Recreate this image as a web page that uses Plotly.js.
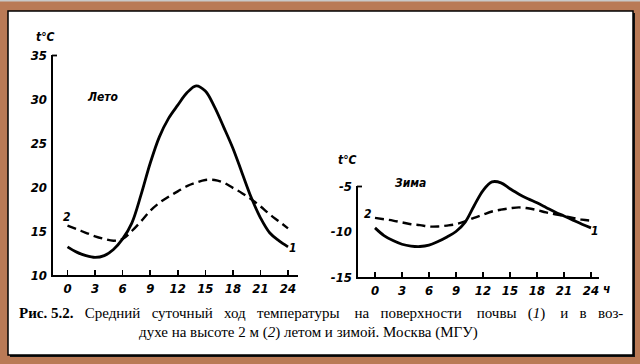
<!DOCTYPE html>
<html><head><meta charset="utf-8">
<script src="https://cdn.plot.ly/plotly-3.0.1.min.js"></script>
<style>html,body{margin:0;padding:0;background:#B97A56;}#chart{width:640px;height:364px;}</style>
</head><body><div id="chart"></div>
<script>
// Hours of the day
const hours = [0,1,2,3,4,5,6,7,8,9,10,11,12,13,14,15,16,17,18,19,20,21,22,23,24];
// Summer (Лето): 1 = soil surface, 2 = air at 2 m
const summerSoil = [13.2,12.6,12.2,12.0,12.2,12.9,14.1,15.9,19.1,22.7,25.7,27.8,29.3,30.7,31.5,30.9,29.1,26.8,24.4,21.6,18.8,16.5,14.8,13.9,13.2];
const summerAir  = [15.6,15.2,14.8,14.4,14.1,13.9,14.1,15.0,16.1,17.3,18.2,18.9,19.5,20.1,20.5,20.8,20.8,20.5,19.9,19.3,18.6,17.8,16.9,16.1,15.3];
// Winter (Зима)
const winterSoil = [-9.6,-10.45,-11.0,-11.4,-11.6,-11.65,-11.5,-11.1,-10.6,-10.0,-9.0,-7.2,-5.5,-4.55,-4.65,-5.3,-5.9,-6.4,-6.85,-7.35,-7.85,-8.3,-8.75,-9.2,-9.6];
const winterAir  = [-8.5,-8.65,-8.8,-9.0,-9.2,-9.3,-9.45,-9.45,-9.35,-9.2,-8.9,-8.5,-8.15,-7.8,-7.6,-7.45,-7.35,-7.45,-7.65,-7.9,-8.1,-8.3,-8.5,-8.7,-8.8];
// Tick labels
const xTicks = [0,3,6,9,12,15,18,21,24];
const xTickText = ["0","3","6","9","12","15","18","21","24"];
const ySummerTicks = [10,15,20,25,30,35];
const yWinterTicks = [-15,-10,-5];

const W = 640, H = 364;
const px = v => v / W, py = v => 1 - v / H;

const tickFont = {family: "DejaVu Sans Condensed, DejaVu Sans", size: 13, color: "#000", weight: "bold", style: "italic"};
const lblFont = {family: "DejaVu Sans Condensed, DejaVu Sans", size: 12, color: "#000", weight: "bold", style: "italic"};

const solid = {color: "#000", width: 2.8, shape: "spline", smoothing: 1};
const dashed = {color: "#000", width: 2.4, shape: "spline", smoothing: 1, dash: "9px,5px"};

const data = [
  {x: hours, y: summerSoil, xaxis: "x", yaxis: "y", mode: "lines", line: solid, hoverinfo: "skip"},
  {x: hours, y: summerAir, xaxis: "x", yaxis: "y", mode: "lines", line: dashed, hoverinfo: "skip"},
  {x: hours, y: winterSoil, xaxis: "x2", yaxis: "y2", mode: "lines", line: solid, hoverinfo: "skip"},
  {x: hours, y: winterAir, xaxis: "x2", yaxis: "y2", mode: "lines", line: dashed, hoverinfo: "skip"}
];

function xAx(domain, range, anchor) {
  return {domain, range, anchor, showline: true, linewidth: 2, linecolor: "#000", ticks: "inside", ticklen: 5, tickwidth: 1.5, tickcolor: "#000",
    tickvals: xTicks, ticktext: xTickText, tickfont: tickFont, showgrid: false, zeroline: false, fixedrange: true};
}
function yAx(domain, range, anchor, vals) {
  return {domain, range, anchor, showline: false, ticks: "", tickvals: vals, ticktext: vals.map(String),
    tickfont: tickFont, showgrid: false, zeroline: false, fixedrange: true, ticklabelstandoff: 3};
}

// summer panel geometry (pixels)
const sx0 = 51, sx1 = 298, s0 = 67.5, s24 = 288, sTop = 55, sBot = 275;
const sppx = (s24 - s0) / 24;
// winter panel geometry (pixels)
const wx0 = 356, wx1 = 599, w0 = 375, w24 = 591, wTop = 186, wBot = 277;
const wppx = (w24 - w0) / 24;
const wUnit = (wBot - wTop) / 10;

const ann = (x, y, text, extra) => Object.assign({xref: "paper", yref: "paper", x: px(x), y: py(y), text, showarrow: false,
  xanchor: "center", yanchor: "middle", font: lblFont}, extra || {});

const layout = {
  width: W, height: H, margin: {l: 0, r: 0, t: 0, b: 0},
  paper_bgcolor: "#B97A56", plot_bgcolor: "rgba(0,0,0,0)", showlegend: false,
  xaxis: xAx([px(sx0), px(sx1)], [(sx0 - s0) / sppx, (sx1 - s0) / sppx], "y"),
  yaxis: yAx([py(sBot), py(sTop)], [10, 35], "x", ySummerTicks),
  xaxis2: xAx([px(wx0), px(wx1)], [(wx0 - w0) / wppx, (wx1 - w0) / wppx], "y2"),
  yaxis2: yAx([py(wBot), py(wTop - 1.6 * wUnit)], [-15, -3.4], "x2", yWinterTicks),
  shapes: [
    {type: "line", xref: "paper", yref: "paper", x0: 0, x1: 1, y0: py(0.8), y1: py(0.8), line: {color: "#c9c9c9", width: 1.6}, layer: "below"},
    {type: "rect", xref: "paper", yref: "paper", x0: px(10), x1: px(635), y0: py(357), y1: py(13), fillcolor: "#111", line: {width: 0}, layer: "below"},
    {type: "rect", xref: "paper", yref: "paper", x0: px(8), x1: px(633), y0: py(355), y1: py(11), fillcolor: "#fff", line: {color: "#000", width: 1.5}, layer: "below"},
    // vertical axis lines with caps
    {type: "line", xref: "paper", yref: "paper", x0: px(sx0 + 1), x1: px(sx0 + 1), y0: py(sBot), y1: py(sTop), line: {color: "#000", width: 2}},
    {type: "line", xref: "paper", yref: "paper", x0: px(sx0 + 1), x1: px(sx0 + 6), y0: py(sTop + 0.5), y1: py(sTop + 0.5), line: {color: "#000", width: 1.8}},
    {type: "line", xref: "paper", yref: "paper", x0: px(wx0 + 1), x1: px(wx0 + 1), y0: py(wBot), y1: py(wTop), line: {color: "#000", width: 2}},
    {type: "line", xref: "paper", yref: "paper", x0: px(wx0 + 1), x1: px(wx0 + 6), y0: py(wTop + 0.5), y1: py(wTop + 0.5), line: {color: "#000", width: 1.8}}
  ],
  annotations: [
    ann(45, 37, "t°C"),
    ann(347, 160, "t°C"),
    ann(103, 97, "Лето"),
    ann(410, 183, "Зима"),
    ann(67, 217, "2"),
    ann(293, 248, "1"),
    ann(368, 214, "2"),
    ann(595, 231, "1"),
    ann(601, 289, "ч", {xanchor: "left"}),
    ann(321, 313,
     "<b>Рис. 5.2.</b>\u00a0\u00a0 Средний\u00a0\u00a0 суточный\u00a0\u00a0 ход\u00a0\u00a0 температуры\u00a0\u00a0\u00a0 на\u00a0\u00a0 поверхности\u00a0\u00a0\u00a0 почвы\u00a0\u00a0 (<i>1</i>)\u00a0\u00a0\u00a0 и\u00a0\u00a0 в\u00a0\u00a0 воз-",
     {font: {family: "Liberation Serif", size: 15, color: "#000"}}),
    ann(308, 332, "духе на высоте 2 м (<i>2</i>) летом и зимой. Москва (МГУ)",
     {font: {family: "Liberation Serif", size: 15, color: "#000"}})
  ]
};

Plotly.newPlot("chart", data, layout, {staticPlot: true, displayModeBar: false});
</script></body></html>
